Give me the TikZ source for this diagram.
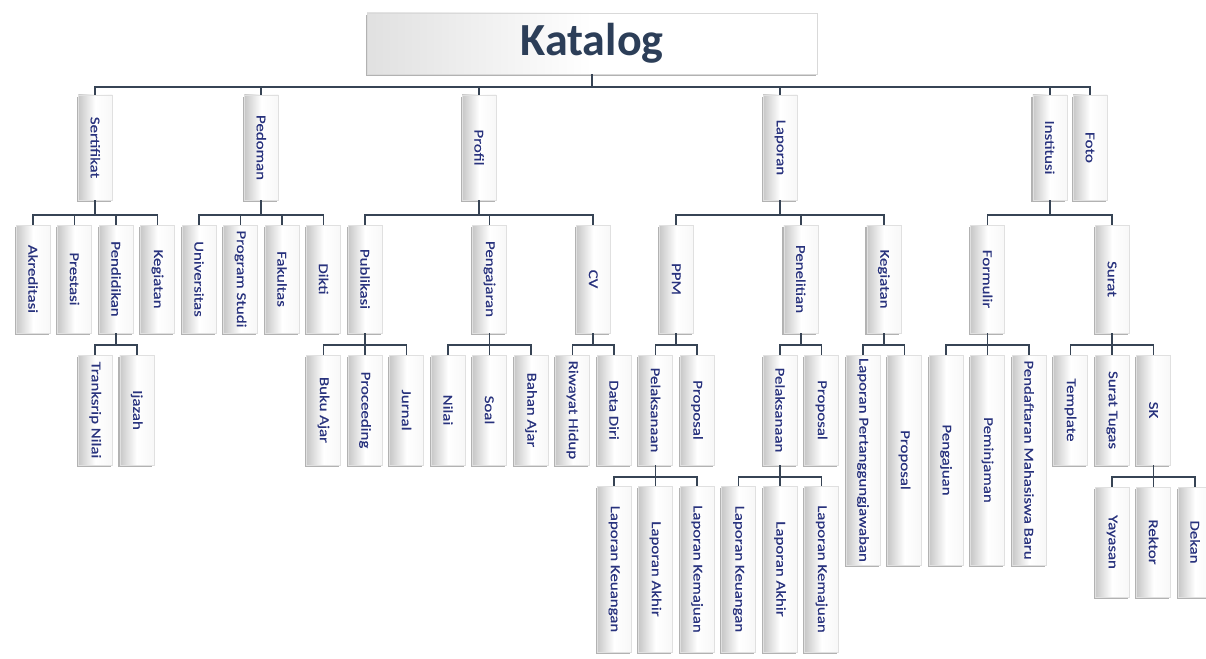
\documentclass[tikz,border=0pt]{standalone}
\usepackage{fontspec}
\setmainfont{Carlito}
\newfontfamily\bxfont{Carlito}[FakeBold=0.4]
\usetikzlibrary{shadows}
\definecolor{txt}{RGB}{40,50,125}
\definecolor{ttl}{RGB}{44,62,88}
\definecolor{lnc}{RGB}{55,68,85}
\tikzset{
  box/.style={draw=black!12, line width=0.5pt, left color=black!22, right color=black!3, middle color=white,
    minimum width=34pt, inner sep=0pt, text=txt, font=\bxfont\fontsize{13.5}{14}\selectfont,
    drop shadow={shadow xshift=-1.5pt, shadow yshift=-2pt, opacity=0.3, fill=black}},
  titlebox/.style={draw=black!15, line width=0.5pt, left color=black!12, right color=white, middle color=white,
    minimum width=450pt, minimum height=61pt, inner sep=0pt, text=ttl, font=\bfseries\fontsize{46}{48}\selectfont,
    drop shadow={shadow xshift=-1.5pt, shadow yshift=-2pt, opacity=0.3, fill=black}},
  conn/.style={draw=lnc, line width=1.8pt}
}
\newcommand\vt[1]{\rotatebox{-90}{\scalebox{1.25}[1]{#1}}}
\newcommand\bx[5]{\node[box, minimum height=#4pt] (#1) at (#2,#3) {\vt{#5}};}
\newcommand\tree[3]{\foreach \c in {#3}{\draw[conn] (#1.south) -- ++(0,#2) -| (\c.north);}}
\begin{document}
\begin{tikzpicture}[x=1pt,y=-1pt]
\useasboundingbox[fill=white] (0,0) rectangle (1206,658);
% title
\node[titlebox] (kat) at (592,43.5) {Katalog};
% level 1
\bx{sert}{95.25}{147.5}{105}{Sertifikat}
\bx{ped}{261.25}{147.5}{105}{Pedoman}
\bx{prof}{479.1}{147.5}{105}{Profil}
\bx{lap}{780}{147.5}{105}{Laporan}
\bx{inst}{1049.75}{147.5}{105}{Institusi}
\bx{foto}{1090}{147.5}{105}{Foto}
% level 2
\bx{akr}{33}{279}{108}{Akreditasi}
\bx{pres}{74.5}{279}{108}{Prestasi}
\bx{pend}{116}{279}{108}{Pendidikan}
\bx{keg}{157.5}{279}{108}{Kegiatan}
\bx{univ}{199}{279}{108}{Universitas}
\bx{prodi}{240.5}{279}{108}{Program Studi}
\bx{fak}{282}{279}{108}{Fakultas}
\bx{dikti}{323.5}{279}{108}{Dikti}
\bx{publ}{365}{279}{108}{Publikasi}
\bx{peng}{489.5}{279}{108}{Pengajaran}
\bx{cv}{593.25}{279}{108}{CV}
\bx{ppm}{676.25}{279}{108}{PPM}
\bx{pen}{800.75}{279}{108}{Penelitian}
\bx{kegl}{883.75}{279}{108}{Kegiatan}
\bx{form}{987.5}{279}{108}{Formulir}
\bx{surat}{1112}{279}{108}{Surat}
% level 3
\bx{trans}{95.25}{410}{110}{Tranksrip Nilai}
\bx{ijz}{136.75}{410}{110}{Ijazah}
\bx{buku}{323.5}{410}{110}{Buku Ajar}
\bx{proc}{365}{410}{110}{Proceeding}
\bx{jurn}{406.5}{410}{110}{Jurnal}
\bx{nilai}{448}{410}{110}{Nilai}
\bx{soal}{489.5}{410}{110}{Soal}
\bx{bahan}{531}{410}{110}{Bahan Ajar}
\bx{riw}{572.5}{410}{110}{Riwayat Hidup}
\bx{data}{614}{410}{110}{Data Diri}
\bx{pelA}{655.5}{410}{110}{Pelaksanaan}
\bx{propA}{697}{410}{110}{Proposal}
\bx{pelB}{780}{410}{110}{Pelaksanaan}
\bx{propB}{821.5}{410}{110}{Proposal}
\bx{lpj}{863}{460}{210}{Laporan Pertanggungjawaban}
\bx{propC}{904.5}{460}{210}{Proposal}
\bx{penga}{946}{460}{210}{Pengajuan}
\bx{pinj}{987.5}{460}{210}{Peminjaman}
\bx{daft}{1029}{460}{210}{Pendaftaran Mahasiswa Baru}
\bx{templ}{1070.5}{410}{110}{Template}
\bx{stug}{1112}{410}{110}{Surat Tugas}
\bx{sk}{1153.5}{410}{110}{SK}
% level 4
\bx{lkA}{614}{569}{166}{Laporan Keuangan}
\bx{laA}{655.5}{569}{166}{Laporan Akhir}
\bx{lmA}{697}{569}{166}{Laporan Kemajuan}
\bx{lkB}{738.5}{569}{166}{Laporan Keuangan}
\bx{laB}{780}{569}{166}{Laporan Akhir}
\bx{lmB}{821.5}{569}{166}{Laporan Kemajuan}
\bx{yay}{1112}{542}{110}{Yayasan}
\bx{rek}{1153.5}{542}{110}{Rektor}
\bx{dek}{1195}{542}{110}{Dekan}
% connectors
\tree{kat}{12.5}{sert,ped,prof,lap,inst,foto}
\tree{sert}{15}{akr,pres,pend,keg}
\tree{ped}{15}{univ,prodi,fak,dikti}
\tree{prof}{15}{publ,peng,cv}
\tree{lap}{15}{ppm,pen,kegl}
\tree{inst}{15}{form,surat}
\tree{pend}{12}{trans,ijz}
\tree{publ}{12}{buku,proc,jurn}
\tree{peng}{12}{nilai,soal,bahan}
\tree{cv}{12}{riw,data}
\tree{ppm}{12}{pelA,propA}
\tree{pen}{12}{pelB,propB}
\tree{kegl}{12}{lpj,propC}
\tree{form}{12}{penga,pinj,daft}
\tree{surat}{12}{templ,stug,sk}
\tree{pelA}{12}{lkA,laA,lmA}
\tree{pelB}{12}{lkB,laB,lmB}
\tree{sk}{12}{yay,rek,dek}
\end{tikzpicture}
\end{document}
